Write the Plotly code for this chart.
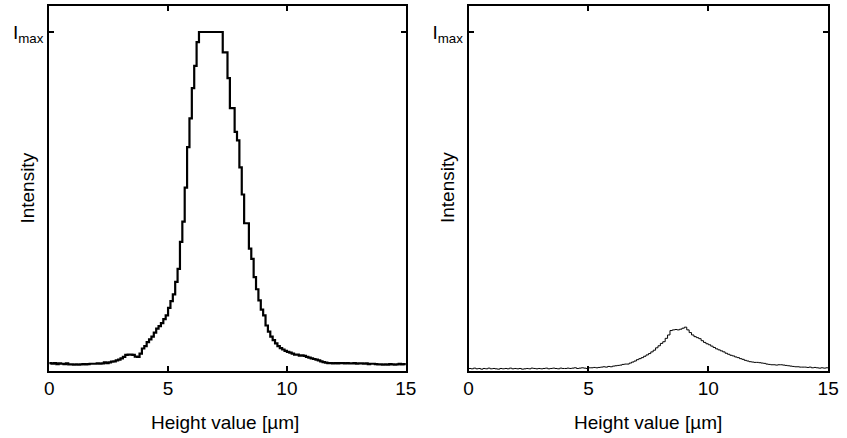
import numpy as np
import plotly.graph_objects as go

# Histogram bins: 0.1 µm wide, from 0 to 15 µm
bin_width_um = 0.1
n_bins = 150

# Left panel: normalised intensity (Imax = 1)
intensity_left = [
    0.022, 0.020, 0.022, 0.019, 0.021, 0.020, 0.019, 0.021, 0.018, 0.018,
    0.017, 0.018, 0.017, 0.018, 0.019, 0.018, 0.019, 0.020, 0.020, 0.020,
    0.021, 0.020, 0.021, 0.024, 0.022, 0.024, 0.026, 0.027, 0.030, 0.032,
    0.036, 0.040, 0.046, 0.047, 0.047, 0.046, 0.041, 0.040, 0.050, 0.065,
    0.072, 0.084, 0.092, 0.100, 0.112, 0.124, 0.131, 0.140, 0.152, 0.163,
    0.185, 0.205, 0.225, 0.262, 0.300, 0.380, 0.440, 0.540, 0.660, 0.745,
    0.834, 0.900, 0.970, 1.000, 1.000, 1.000, 1.000, 1.000, 1.000, 1.000,
    1.000, 1.000, 1.000, 0.940, 0.940, 0.864, 0.775, 0.775, 0.705, 0.680,
    0.600, 0.520, 0.435, 0.435, 0.360, 0.330, 0.276, 0.240, 0.207, 0.180,
    0.163, 0.133, 0.115, 0.100, 0.090, 0.080, 0.072, 0.066, 0.062, 0.058,
    0.055, 0.053, 0.050, 0.047, 0.047, 0.044, 0.045, 0.043, 0.040, 0.038,
    0.036, 0.034, 0.032, 0.030, 0.027, 0.025, 0.023, 0.022, 0.022, 0.021,
    0.022, 0.021, 0.022, 0.022, 0.021, 0.022, 0.021, 0.021, 0.022, 0.020,
    0.021, 0.021, 0.020, 0.021, 0.019, 0.020, 0.020, 0.019, 0.018, 0.018,
    0.017, 0.018, 0.017, 0.019, 0.018, 0.017, 0.018, 0.020, 0.018, 0.019,
]

# Right panel: normalised intensity (same Imax)
intensity_right = [
    0.006, 0.005, 0.007, 0.005, 0.006, 0.004, 0.006, 0.005, 0.007, 0.005,
    0.006, 0.005, 0.004, 0.006, 0.005, 0.006, 0.005, 0.007, 0.005, 0.006,
    0.005, 0.006, 0.004, 0.005, 0.006, 0.005, 0.007, 0.006, 0.005, 0.006,
    0.005, 0.006, 0.007, 0.005, 0.006, 0.007, 0.006, 0.005, 0.007, 0.006,
    0.006, 0.007, 0.006, 0.007, 0.008, 0.006, 0.007, 0.008, 0.007, 0.006,
    0.008, 0.008, 0.009, 0.008, 0.009, 0.010, 0.011, 0.010, 0.012, 0.011,
    0.013, 0.014, 0.015, 0.016, 0.018, 0.019, 0.019, 0.022, 0.025, 0.028,
    0.032, 0.035, 0.038, 0.042, 0.046, 0.050, 0.055, 0.060, 0.067, 0.073,
    0.080, 0.085, 0.095, 0.105, 0.118, 0.120, 0.121, 0.120, 0.122, 0.125,
    0.128, 0.120, 0.112, 0.105, 0.100, 0.097, 0.094, 0.088, 0.083, 0.079,
    0.076, 0.072, 0.068, 0.064, 0.061, 0.058, 0.055, 0.051, 0.048, 0.045,
    0.043, 0.040, 0.038, 0.035, 0.033, 0.030, 0.028, 0.026, 0.025, 0.024,
    0.024, 0.023, 0.022, 0.021, 0.019, 0.018, 0.017, 0.017, 0.016, 0.017,
    0.017, 0.016, 0.015, 0.014, 0.013, 0.012, 0.011, 0.011, 0.010, 0.010,
    0.010, 0.009, 0.010, 0.008, 0.009, 0.008, 0.007, 0.008, 0.007, 0.008,
]

x_tick_vals = [0, 5, 10, 15]
x_tick_text = ["0", "5", "10", "15"]
y_tick_vals = [1.0]
y_tick_text = ["I<sub>max</sub>"]
x_title = "Height value [µm]"
y_title = "Intensity"

edges = list(np.round(np.arange(n_bins + 1) * bin_width_um, 3))

fig = go.Figure()
fig.add_trace(go.Scatter(
    x=edges, y=intensity_left + [intensity_left[-1]],
    mode="lines", line=dict(color="black", width=2.2, shape="hv"),
    xaxis="x", yaxis="y", showlegend=False, hoverinfo="skip"))
fig.add_trace(go.Scatter(
    x=edges, y=intensity_right + [intensity_right[-1]],
    mode="lines", line=dict(color="black", width=1, shape="hv"),
    xaxis="x2", yaxis="y2", showlegend=False, hoverinfo="skip"))

W, H = 847, 438
tick_font = dict(family="Liberation Sans, Arial, sans-serif", size=19, color="black")
title_font = dict(family="Liberation Sans, Arial, sans-serif", size=19, color="black")

def xax(domain, rng, anchor):
    return dict(domain=domain, range=rng, anchor=anchor, tickvals=x_tick_vals,
                ticktext=x_tick_text, ticks="inside", ticklen=5, tickwidth=2,
                tickcolor="black", mirror="ticks", showline=True, linecolor="black",
                linewidth=2, showgrid=False, zeroline=False, tickfont=tick_font)

def yax(domain, rng, anchor):
    return dict(domain=domain, range=rng, anchor=anchor, tickvals=y_tick_vals,
                ticktext=y_tick_text, ticks="inside", ticklen=5, tickwidth=2,
                tickcolor="black", mirror="ticks", showline=True, linecolor="black",
                linewidth=2, showgrid=False, zeroline=False, tickfont=tick_font,
                ticklabelstandoff=0)

ydom = [1 - 370.5 / H, 1 - 6 / H]
yr = [0, (370.5 - 6) / 338.5]
fig.update_layout(
    width=W, height=H, margin=dict(l=0, r=0, t=0, b=0),
    paper_bgcolor="white", plot_bgcolor="white", font=tick_font,
    xaxis=xax([45 / W, 408.5 / W], [0, 15.02], "y"),
    yaxis=yax(ydom, yr, "x"),
    xaxis2=xax([472 / W, 838 / W], [0, 15.0], "y2"),
    yaxis2=yax(ydom, yr, "x2"),
)

for cx in (224, 655):
    fig.add_annotation(x=cx / W, y=1 - 422 / H, xref="paper", yref="paper",
                       text=x_title, showarrow=False, font=title_font,
                       xanchor="center", yanchor="middle")
for cx in (22, 450):
    fig.add_annotation(x=cx / W, y=1 - 188 / H, xref="paper", yref="paper",
                       text=y_title, showarrow=False, font=title_font, textangle=-90,
                       xanchor="center", yanchor="middle")

fig.write_html("out.html", config={"displayModeBar": False},
               post_script="document.body.style.margin='0';document.body.style.overflow='hidden';")
